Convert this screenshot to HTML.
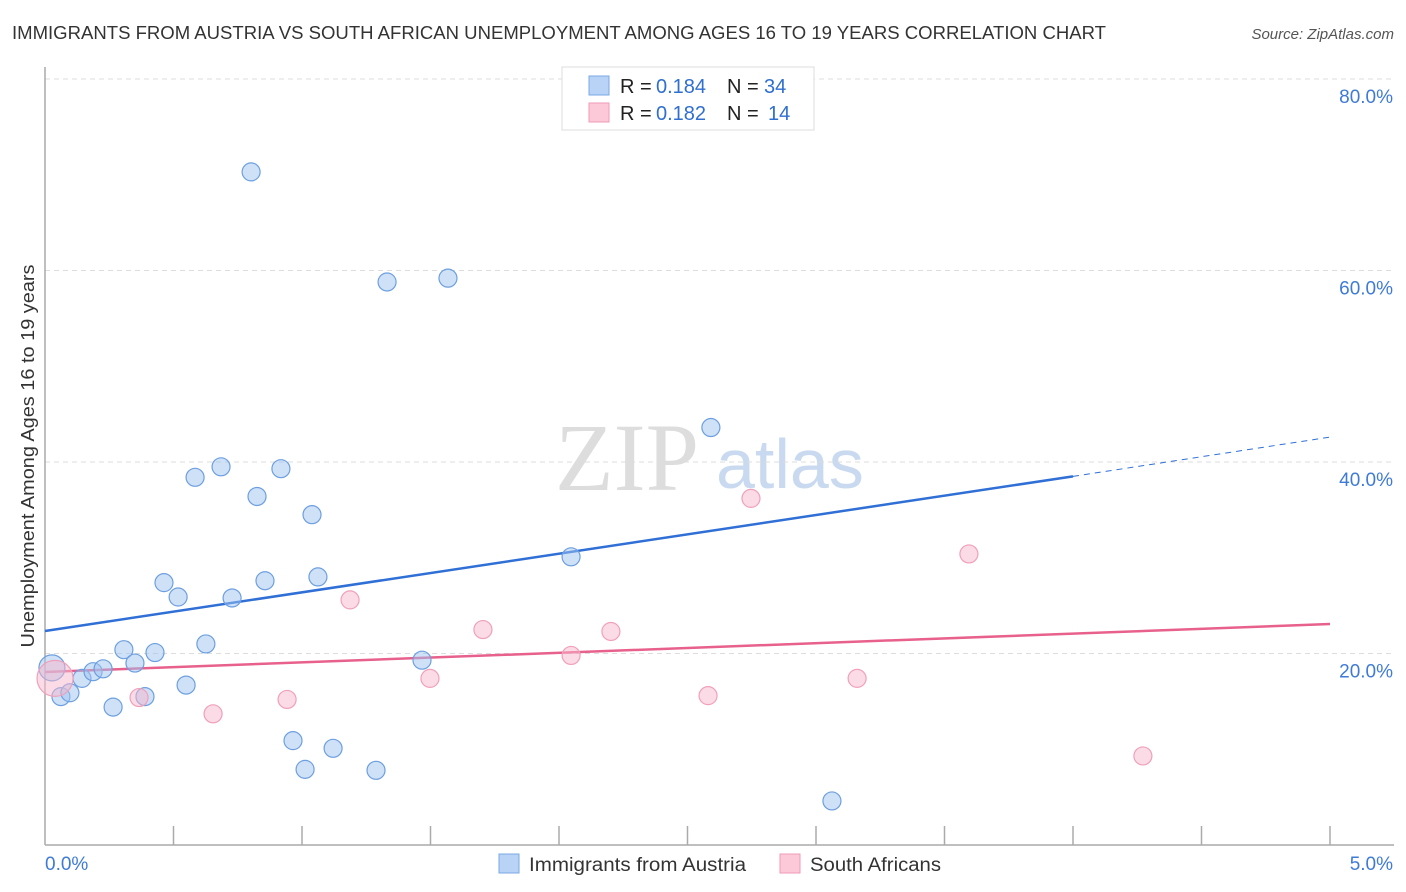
<!DOCTYPE html>
<html><head><meta charset="utf-8"><style>
body{margin:0;background:#fff;font-family:"Liberation Sans",sans-serif;}
svg{display:block}
</style></head><body>
<svg id="c" width="1406" height="892">
<text x="12" y="39" font-size="18" fill="#333" textLength="1094" lengthAdjust="spacingAndGlyphs">IMMIGRANTS FROM AUSTRIA VS SOUTH AFRICAN UNEMPLOYMENT AMONG AGES 16 TO 19 YEARS CORRELATION CHART</text>
<text x="1394" y="39" font-size="15" fill="#555" font-style="italic" text-anchor="end">Source: ZipAtlas.com</text>
<text x="0" y="0" transform="translate(34,456) rotate(-90)" font-size="18" fill="#333" text-anchor="middle" textLength="383" lengthAdjust="spacingAndGlyphs">Unemployment Among Ages 16 to 19 years</text>
<g><text x="555" y="490" font-size="96" fill="#ddd" font-family="Liberation Serif,serif">ZIP</text><text x="716" y="488" font-size="70" fill="#c9daf0">atlas</text></g>
<g id="grid"></g><g id="axes"></g><g id="lines"></g><g id="pts"></g>
<g>
<rect x="562" y="67" width="252" height="63" fill="#fff" stroke="#ddd"/>
<rect x="589" y="76" width="20" height="19" fill="#b8d3f5" stroke="#7aa8e6"/>
<rect x="589" y="103" width="20" height="19" fill="#fbc9d8" stroke="#f09ab5"/>
<text x="620" y="93" font-size="20" fill="#222">R =</text><text x="656" y="93" font-size="20" fill="#2f6fd0">0.184</text>
<text x="727" y="93" font-size="20" fill="#222">N =</text><text x="764" y="93" font-size="20" fill="#2f6fd0">34</text>
<text x="620" y="120" font-size="20" fill="#222">R =</text><text x="656" y="120" font-size="20" fill="#2f6fd0">0.182</text>
<text x="727" y="120" font-size="20" fill="#222">N =</text><text x="768" y="120" font-size="20" fill="#2f6fd0">14</text>
</g>
<g>
<rect x="499" y="854" width="20" height="19" fill="#b8d3f5" stroke="#7aa8e6"/>
<text x="529" y="871" font-size="19" fill="#333" textLength="217" lengthAdjust="spacingAndGlyphs">Immigrants from Austria</text>
<rect x="780" y="854" width="20" height="19" fill="#fbc9d8" stroke="#f09ab5"/>
<text x="810" y="871" font-size="19" fill="#333" textLength="131" lengthAdjust="spacingAndGlyphs">South Africans</text>
</g>
</svg>
<script>
const xTicks=[0,0.5,1,1.5,2,2.5,3,3.5,4,4.5,5];
const yTicks=[20,40,60,80];
const yTickLabels=["20.0%","40.0%","60.0%","80.0%"];
const austriaX=[0.027,0.062,0.097,0.144,0.187,0.226,0.265,0.307,0.350,0.389,0.428,0.463,0.518,0.549,0.584,0.626,0.685,0.728,0.802,0.825,0.856,0.918,0.965,1.012,1.039,1.062,1.121,1.288,1.331,1.467,1.568,2.047,2.591,3.062];
const austriaY=[18.5,15.5,15.9,17.4,18.1,18.4,14.4,20.4,19.0,15.5,20.1,27.4,25.9,16.7,38.4,21.0,39.5,25.8,70.3,36.4,27.6,39.3,10.9,7.9,34.5,28.0,10.1,7.8,58.8,19.3,59.2,30.1,43.6,4.6];
const saX=[0.039,0.366,0.654,0.942,1.187,1.498,1.704,2.047,2.202,2.580,2.747,3.160,3.595,4.272];
const saY=[17.4,15.4,13.7,15.2,25.6,17.4,22.5,19.8,22.3,15.6,36.2,17.4,30.4,9.3];
const austriaTrend=[22.35,38.5,42.6]; // at x=0, 4.0, 5.0
const saTrend=[18.07,23.08]; // at x=0, 5.0
const NS="http://www.w3.org/2000/svg";
const X=v=>45+v/5*1285, Y=v=>845-v/80*766;
function mk(t,a,p){const e=document.createElementNS(NS,t);for(const k in a)e.setAttribute(k,a[k]);p.appendChild(e);return e;}
const grid=document.getElementById('grid'),axes=document.getElementById('axes'),lines=document.getElementById('lines'),pts=document.getElementById('pts');
yTicks.forEach((v,i)=>{
 const l=mk('line',{x1:45,x2:1394,y1:Y(v),y2:Y(v),stroke:'#ddd','stroke-dasharray':'5,4'},grid);
 
 
 const t=mk('text',{x:1393,y:Y(v)+24,'font-size':19,fill:'#3f7bd6','text-anchor':'end'},axes);t.textContent=yTickLabels[i];
 
 
});
mk('line',{x1:45,x2:45,y1:67,y2:845,stroke:'#aaa','stroke-width':1.5},axes);
mk('line',{x1:45,x2:1394,y1:845,y2:845,stroke:'#aaa','stroke-width':1.5},axes);
xTicks.forEach(v=>{if(v>0){const l=mk('line',{x1:X(v),x2:X(v),y1:826,y2:845,stroke:'#aaa','stroke-width':1.5},axes);
 
 }});
const t0=mk('text',{x:45,y:870,'font-size':19,fill:'#3f7bd6'},axes);t0.textContent='0.0%';


const t1=mk('text',{x:1393,y:870,'font-size':19,fill:'#3f7bd6','text-anchor':'end'},axes);t1.textContent='5.0%';


austriaX.forEach((x,i)=>{const c=mk('circle',{cx:X(x),cy:Y(austriaY[i]),r:i==0?13:9,fill:'rgba(160,196,240,0.5)',stroke:'#6d9fe0','stroke-width':1.2},pts);
 
 });
saX.forEach((x,i)=>{const c=mk('circle',{cx:X(x),cy:Y(saY[i]),r:i==0?18:9,fill:'rgba(248,184,204,0.5)',stroke:'#f0a0ba','stroke-width':1.2},pts);
 
 });
const bl=mk('line',{x1:X(0),y1:Y(austriaTrend[0]),x2:X(4),y2:Y(austriaTrend[1]),stroke:'#2f6fd6','stroke-width':2.5},lines);


const bd=mk('line',{x1:X(4),y1:Y(austriaTrend[1]),x2:X(5),y2:Y(austriaTrend[2]),stroke:'#2f6fd6','stroke-width':1,'stroke-dasharray':'6,5'},lines);


const pl=mk('line',{x1:X(0),y1:Y(saTrend[0]),x2:X(5),y2:Y(saTrend[1]),stroke:'#e8608c','stroke-width':2.5},lines);


</script>
</body></html>
